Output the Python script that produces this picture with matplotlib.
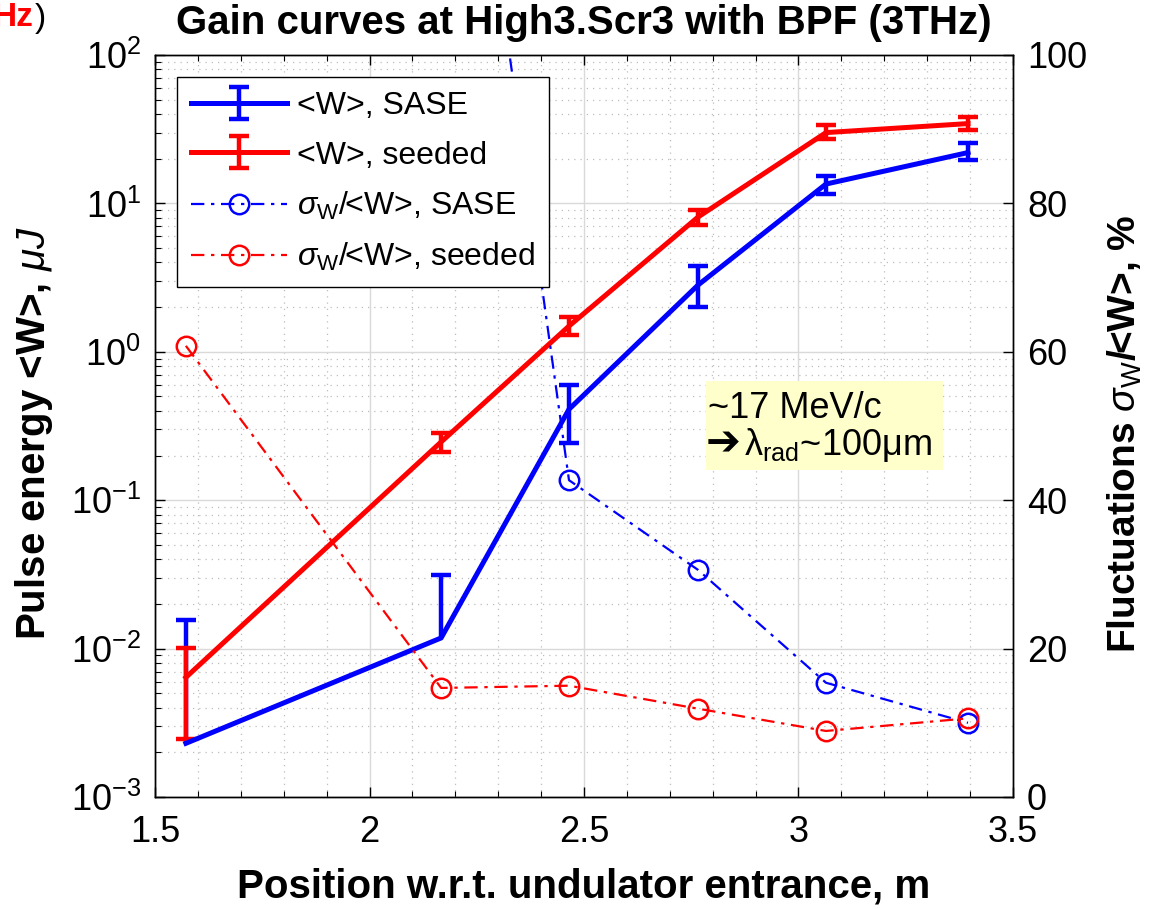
import numpy as np
import matplotlib
matplotlib.use("Agg")
import matplotlib.pyplot as plt
from matplotlib.patches import Rectangle
from matplotlib.ticker import FixedLocator, LogLocator, NullFormatter, MultipleLocator

plt.rcParams['font.family'] = ['Liberation Sans', 'DejaVu Sans']
plt.rcParams['mathtext.fontset'] = 'custom'
plt.rcParams['mathtext.rm'] = 'Liberation Sans'
plt.rcParams['mathtext.it'] = 'Liberation Sans:italic'
plt.rcParams['mathtext.bf'] = 'Liberation Sans:bold'

# ---------------- data ----------------
pos = [1.572, 2.167, 2.465, 2.766, 3.064, 3.395]

w_sase = [0.0023, 0.0118, 0.41, 2.82, 13.5, 22.0]
w_sase_lo = [np.nan, np.nan, 0.243, 2.0, 11.6, 19.5]
w_sase_hi = [0.0156, 0.0313, 0.597, 3.79, 15.4, 25.4]

w_seed = [0.0064, 0.247, 1.49, 8.1, 30.0, 34.5]
w_seed_lo = [0.00246, 0.21, 1.30, 7.1, 27.0, 31.0]
w_seed_hi = [0.0101, 0.285, 1.71, 9.0, 33.5, 38.5]

fl_sase = [150.0, 166.0, 42.7, 30.6, 15.4, 10.0]
fl_seed = [60.8, 14.7, 15.0, 11.9, 8.9, 10.6]

xticks = [1.5, 2.0, 2.5, 3.0, 3.5]
xtick_labels = ['1.5', '2', '2.5', '3', '3.5']
rticks = [0, 20, 40, 60, 80, 100]

BLUE = (0, 0, 1)
RED = (1, 0, 0)

fig = plt.figure(figsize=(11.75, 9.09), dpi=100)
ax = fig.add_axes([155/1175, 1-797/909, (1013-155)/1175, (797-55)/909])
ax2 = ax.twinx()

# ---------------- left axis: pulse energy ----------------
def draw_energy(xv, yv, lo, hi, color, label):
    xv = np.asarray(xv); yv = np.asarray(yv)
    lo = np.asarray(lo); hi = np.asarray(hi)
    lower = yv - lo
    upper = hi - yv
    eb = ax.errorbar(xv, yv, yerr=[lower, upper], color=color, lw=3.6,
                     elinewidth=3.2, capsize=7, capthick=3.2, label=label, zorder=3)
    miss = np.isnan(lo)
    if miss.any():
        ax.vlines(xv[miss], yv[miss], hi[miss], color=color, lw=3.2, zorder=3)
    return eb

eb1 = draw_energy(pos, w_sase, w_sase_lo, w_sase_hi, BLUE, '<W>, SASE')
eb2 = draw_energy(pos, w_seed, w_seed_lo, w_seed_hi, RED, '<W>, seeded')

ax.set_yscale('log')
ax.set_xlim(1.5, 3.5)
ax.set_ylim(1e-3, 1e2)
ax.xaxis.set_major_locator(FixedLocator(xticks))
ax.set_xticklabels(xtick_labels)
ax.xaxis.set_minor_locator(MultipleLocator(0.1))
ax.yaxis.set_major_locator(LogLocator(base=10, numticks=10))
ax.yaxis.set_minor_locator(LogLocator(base=10, subs=np.arange(2, 10), numticks=20))
ax.yaxis.set_minor_formatter(NullFormatter())

ax.grid(True, which='major', color='#d9d9d9', lw=1.0, ls='-')
ax.grid(True, which='minor', color='#bdbdbd', lw=0.9, ls=(0, (1, 4)))
ax.set_axisbelow(True)

ax.tick_params(axis='both', which='major', direction='in', length=7, width=1,
               labelsize=26, top=True, pad=10)
ax.tick_params(axis='x', which='major', pad=13)
ax.tick_params(axis='both', which='minor', direction='in', length=4, width=0.8, top=True)
ax.tick_params(axis='y', which='both', right=False)

ax.set_xlabel('Position w.r.t. undulator entrance, m', fontsize=29, fontweight='bold')
ax.xaxis.set_label_coords(0.5, (797-868)/742)
ax.set_ylabel(r'Pulse energy <W>, $\mu J$', fontsize=29, fontweight='bold')
ax.yaxis.set_label_coords((55-155)/858, 0.49)

# ---------------- right axis: fluctuations ----------------
l3, = ax2.plot(pos, fl_sase, color=BLUE, lw=1.6, ls=(0, (6, 3, 1.5, 3)), marker='o', ms=14,
               mfc='none', mew=1.8, label=r'$\sigma_{\rm W}$/<W>, SASE', zorder=2)
l4, = ax2.plot(pos, fl_seed, color=RED, lw=1.6, ls=(0, (6, 3, 1.5, 3)), marker='o', ms=14,
               mfc='none', mew=1.8, label=r'$\sigma_{\rm W}$/<W>, seeded', zorder=2)
ax2.set_ylim(0, 100)
ax2.yaxis.set_major_locator(FixedLocator(rticks))
ax2.tick_params(axis='y', which='major', direction='in', length=7, width=1,
                labelsize=26, pad=10)
ax2.set_ylabel(r'Fluctuations $\sigma_{\rm W}$/<W>, %', fontsize=28,
               fontweight='bold', rotation=90)
ax2.yaxis.set_label_coords((1106-155)/858, 0.49)

for a in (ax, ax2):
    for s in a.spines.values():
        s.set_color('black')
        s.set_linewidth(1.0)

# ---------------- legend ----------------
leg = ax2.legend(handles=[eb1, eb2, l3, l4], loc='upper left',
                 bbox_to_anchor=((177-155)/858, (797-77)/742), borderaxespad=0,
                 fontsize=23, handlelength=3.0, handletextpad=0.3,
                 labelspacing=0.6, fancybox=False, framealpha=1,
                 edgecolor='black', borderpad=0.45)
leg.get_frame().set_linewidth(1.0)
leg.set_zorder(10)

# ---------------- annotation box ----------------
ax2.add_patch(Rectangle(((706-155)/858, (797-470)/742), (943-706)/858, (470-381)/742,
                        transform=ax2.transAxes, facecolor='#ffffcc',
                        edgecolor='none', zorder=5))
ax2.text((708-155)/858, (797-418)/742, '~17 MeV/c', transform=ax2.transAxes,
         fontsize=26, va='baseline', ha='left', zorder=6)
ax2.text((706-155)/858, (797-455)/742, '\u2794', transform=ax2.transAxes,
         fontsize=30, va='baseline', ha='left', zorder=6,
         family=['DejaVu Sans'], fontweight='bold')
ax2.text((744-155)/858, (797-455)/742, r'λ$_{\rm rad}$~100μm', transform=ax2.transAxes,
         fontsize=26, va='baseline', ha='left', zorder=6)

# ---------------- titles ----------------
fig.text(584/1175, 1-23/909, 'Gain curves at High3.Scr3 with BPF (3THz)',
         fontsize=29, fontweight='bold', ha='center', va='center')
fig.text(34/1175, 1-18/909, 'Hz', color=RED, fontsize=24, fontweight='bold',
         ha='right', va='center')
fig.text(35/1175, 1-18/909, ')', color='black', fontsize=24,
         ha='left', va='center')

fig.savefig('out.png', dpi=100)
